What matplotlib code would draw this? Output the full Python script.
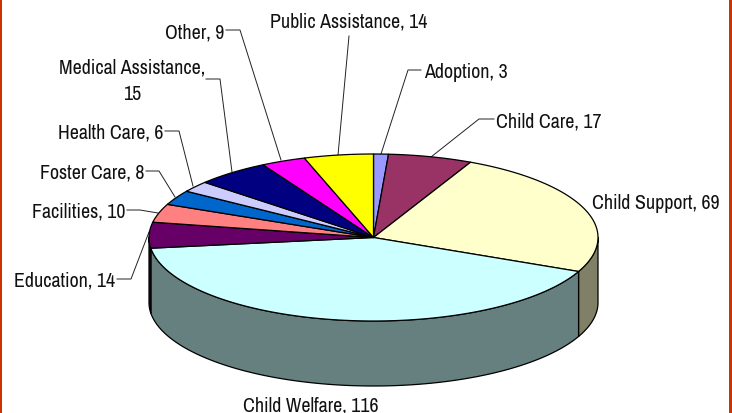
import numpy as np
import matplotlib
matplotlib.use('Agg')
import matplotlib.pyplot as plt

categorias = ['Adoption', 'Child Care', 'Child Support', 'Child Welfare', 'Education', 'Facilities',
              'Foster Care', 'Health Care', 'Medical Assistance', 'Other', 'Public Assistance']
valores = [3, 17, 69, 116, 14, 10, 8, 6, 15, 9, 14]
cores = ['#9999FF', '#993366', '#FFFFCC', '#CCFFFF', '#660066', '#FF8080',
         '#0066CC', '#CCCCFF', '#000080', '#FF00FF', '#FFFF00']

# Geometria da pizza em pixels
cx, cy = 373.5, 238.5
rx, ry = 224.5, 83.5
altura = 65

plt.rcParams['font.family'] = ['Archivo Narrow', 'Liberation Sans', 'DejaVu Sans']
tamanho = 14.4

fig = plt.figure(figsize=(7.32, 4.14), dpi=100)
ax = fig.add_axes([0, 0, 1, 1])
ax.set_xlim(0, 732)
ax.set_ylim(414, 0)
ax.axis('off')


def ponto(t):
    return cx + rx * np.sin(t), cy - ry * np.cos(t)


def escurecer(cor):
    r, g, b = matplotlib.colors.to_rgb(cor)
    return (r * 0.5, g * 0.5, b * 0.5)


limites = np.cumsum([0] + valores) / sum(valores) * 2 * np.pi

# Lateral: so a metade da frente aparece
for i in range(len(valores)):
    ini = max(limites[i], np.pi / 2)
    fim = min(limites[i + 1], 3 * np.pi / 2)
    if fim <= ini:
        continue
    t = np.linspace(ini, fim, 150)
    x, y = ponto(t)
    ax.fill(np.r_[x, x[::-1]], np.r_[y, y[::-1] + altura], fc=escurecer(cores[i]),
            ec='black', lw=0.9, joinstyle='round', zorder=2)

# Topo
for i in range(len(valores)):
    t = np.linspace(limites[i], limites[i + 1], 150)
    x, y = ponto(t)
    ax.fill(np.r_[cx, x], np.r_[cy, y], fc=cores[i], ec='black', lw=0.9, joinstyle='round', zorder=3)

# Linhas de chamada
linhas = [
    [(421, 71), (408, 71), (381, 155)],
    [(494, 120), (479, 120), (431, 158)],
    [(117, 280), (131, 280), (149, 233)],
    [(127, 211), (140, 211), (158, 214)],
    [(146, 172), (159, 172), (175, 198)],
    [(165, 132), (179, 132), (193, 187)],
    [(206, 80), (220, 80), (232, 173)],
    [(226, 31), (240, 31), (281, 161)],
    [(349, 37), (338, 156)],
]
for linha in linhas:
    xs, ys = zip(*linha)
    ax.plot(xs, ys, color='#222222', lw=0.7, zorder=1.5)

# Rotulos: (x, y, alinhamento) na ordem das categorias
posicoes = [
    (424, 70, 'left'),
    (496, 120, 'left'),
    (592, 202, 'left'),
    (311, 404, 'center'),
    (115, 279, 'right'),
    (125, 210, 'right'),
    (144, 171, 'right'),
    (163, 131, 'right'),
    (132, 79, 'center'),
    (224, 31, 'right'),
    (349, 20, 'center'),
]
for nome, valor, (x, y, ha) in zip(categorias, valores, posicoes):
    if nome == 'Medical Assistance':
        ax.text(x, y - 13, f'{nome},', ha=ha, va='center_baseline', fontsize=tamanho, color='#111111')
        ax.text(x, y + 13, f'{valor}', ha=ha, va='center_baseline', fontsize=tamanho, color='#111111')
        continue
    ax.text(x, y, f'{nome}, {valor}', ha=ha, va='center_baseline', fontsize=tamanho, color='#111111')

# Bordas laterais
ax.axvspan(0, 2, color='#CC3300', lw=0)
ax.axvspan(729, 732, color='#CC3300', lw=0)

fig.savefig('out.png', dpi=100)
